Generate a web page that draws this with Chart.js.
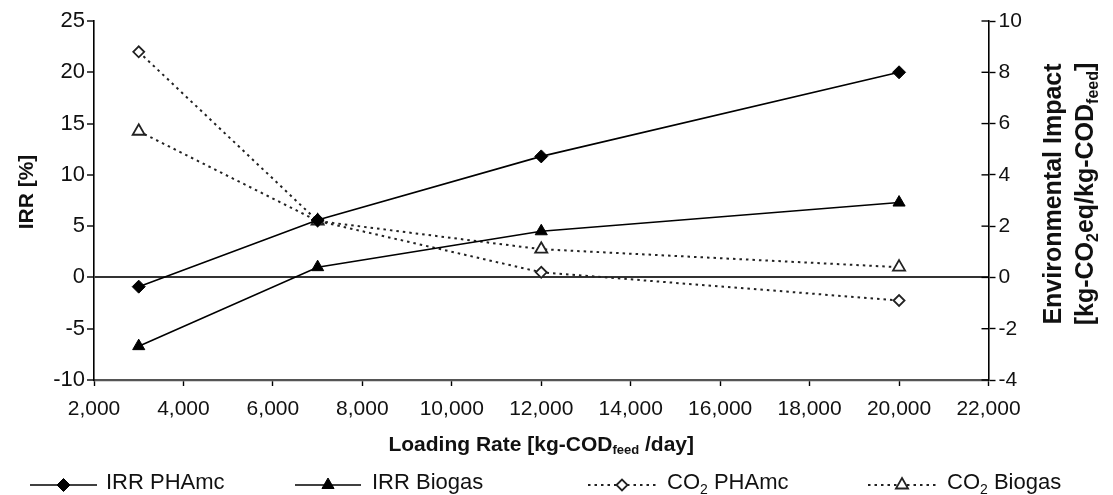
<!DOCTYPE html>
<html>
<head>
<meta charset="utf-8">
<title>IRR and environmental impact vs loading rate</title>
<script src="https://cdn.jsdelivr.net/npm/chart.js@4.4.1/dist/chart.umd.min.js"></script>
<style>
  html, body { margin: 0; padding: 0; background: #fff; }
  #wrap { width: 1113px; height: 495px; }
</style>
</head>
<body>
<div id="wrap"><canvas id="chart" width="1113" height="495"></canvas></div>
<script>
// values
const loadingRates = [3000, 7000, 12000, 20000];
const irrPHAmc = [-0.9, 5.6, 11.8, 20.0];
const irrBiogas = [-6.7, 1.0, 4.5, 7.3];
const co2PHAmc = [8.8, 2.2, 0.2, -0.9];
const co2Biogas = [5.7, 2.2, 1.1, 0.4];

const xTicks = [2000, 4000, 6000, 8000, 10000, 12000, 14000, 16000, 18000, 20000, 22000];
const irrTicks = [-10, -5, 0, 5, 10, 15, 20, 25];
const envTicks = [-4, -2, 0, 2, 4, 6, 8, 10];

const FONT_A = '"Liberation Sans", Arial, sans-serif';
const INK = '#111';

function pairs(ys) { return loadingRates.map((x, i) => ({ x, y: ys[i] })); }

// split a label into runs of [text, isSubscript]
function labelRuns(label) {
  return label.split(/(₂)/).filter(s => s).map(s => s === '₂' ? ['2', true] : [s, false]);
}

// draws text runs with subscripts; x is the centre when centred, else the left edge
function drawRich(ctx, runs, x, baseY, size, weight, subOff, centred) {
  const fontFor = r => `${weight} ${r[1] ? Math.round(size * 0.62) : size}px ${FONT_A}`;
  let total = 0;
  runs.forEach(r => { ctx.font = fontFor(r); total += ctx.measureText(r[0]).width; });
  let cx = centred ? x - total / 2 : x;
  ctx.textAlign = 'left';
  ctx.textBaseline = 'alphabetic';
  runs.forEach(r => {
    ctx.font = fontFor(r);
    ctx.fillText(r[0], cx, baseY + (r[1] ? subOff : 0));
    cx += ctx.measureText(r[0]).width;
  });
}

const legendSlots = [
  { x1: 30, x2: 97, tx: 106 },
  { x1: 295, x2: 361, tx: 372 },
  { x1: 588, x2: 656, tx: 667 },
  { x1: 868, x2: 936, tx: 947 },
];

const decorPlugin = {
  id: 'decor',
  afterDraw(chart) {
    const ctx = chart.ctx;
    const area = chart.chartArea;

    // right axis ticks also reach into the plot
    const y1 = chart.scales.y1;
    ctx.save();
    ctx.strokeStyle = '#000';
    ctx.lineWidth = 1.4;
    y1.ticks.forEach(t => {
      const py = y1.getPixelForValue(t.value);
      ctx.beginPath();
      ctx.moveTo(area.right - 7, py);
      ctx.lineTo(area.right, py);
      ctx.stroke();
    });
    ctx.restore();

    ctx.save();
    ctx.fillStyle = INK;

    // x title
    drawRich(ctx, [['Loading Rate [kg-COD', false], ['feed', true], [' /day]', false]],
      (area.left + area.right) / 2, 451, 21, 'bold', 3, true);

    // left title
    ctx.save();
    ctx.translate(33, 192);
    ctx.rotate(-Math.PI / 2);
    drawRich(ctx, [['IRR [%]', false]], 0, 0, 21, 'bold', 0, true);
    ctx.restore();

    // right title, two lines
    ctx.save();
    ctx.translate(1061, 194);
    ctx.rotate(-Math.PI / 2);
    drawRich(ctx, [['Environmental Impact', false]], 0, 0, 25, 'bold', 0, true);
    drawRich(ctx, [['[kg-CO', false], ['2', true], ['eq/kg-COD', false], ['feed', true], [']', false]],
      0, 32, 25, 'bold', 5, true);
    ctx.restore();

    // legend: line sample with marker, then label
    const ly = 485;
    chart.data.datasets.forEach((ds, i) => {
      const s = legendSlots[i];
      ctx.save();
      ctx.strokeStyle = ds.borderColor;
      ctx.lineWidth = ds.borderWidth;
      ctx.setLineDash(ds.borderDash || []);
      ctx.beginPath();
      ctx.moveTo(s.x1, ly);
      ctx.lineTo(s.x2, ly);
      ctx.stroke();
      ctx.setLineDash([]);
      ctx.fillStyle = ds.pointBackgroundColor;
      ctx.strokeStyle = ds.pointBorderColor;
      ctx.lineWidth = ds.pointBorderWidth;
      Chart.helpers.drawPoint(ctx, {
        pointStyle: ds.pointStyle, radius: ds.pointRadius,
        borderWidth: ds.pointBorderWidth, rotation: 0
      }, (s.x1 + s.x2) / 2, ly);
      ctx.restore();
      ctx.fillStyle = INK;
      drawRich(ctx, labelRuns(ds.label), s.tx, 489, 22, 'normal', 5, false);
    });
    ctx.restore();
  }
};

Chart.defaults.font.family = FONT_A;
Chart.defaults.color = INK;

new Chart(document.getElementById('chart').getContext('2d'), {
  type: 'line',
  data: {
    datasets: [
      {
        label: 'IRR PHAmc', data: pairs(irrPHAmc), yAxisID: 'y',
        borderColor: '#000', borderWidth: 1.6,
        pointStyle: 'rectRot', pointRadius: 6.5, pointBackgroundColor: '#000',
        pointBorderColor: '#000', pointBorderWidth: 1
      },
      {
        label: 'IRR Biogas', data: pairs(irrBiogas), yAxisID: 'y',
        borderColor: '#000', borderWidth: 1.6,
        pointStyle: 'triangle', pointRadius: 7, pointBackgroundColor: '#000',
        pointBorderColor: '#000', pointBorderWidth: 1
      },
      {
        label: 'CO₂ PHAmc', data: pairs(co2PHAmc), yAxisID: 'y1',
        borderColor: '#222', borderWidth: 2, borderDash: [2.5, 4],
        pointStyle: 'rectRot', pointRadius: 5.5, pointBackgroundColor: '#fff',
        pointBorderColor: '#222', pointBorderWidth: 1.8
      },
      {
        label: 'CO₂ Biogas', data: pairs(co2Biogas), yAxisID: 'y1',
        borderColor: '#222', borderWidth: 2, borderDash: [2.5, 4],
        pointStyle: 'triangle', pointRadius: 7, pointBackgroundColor: '#fff',
        pointBorderColor: '#222', pointBorderWidth: 1.8
      }
    ]
  },
  options: {
    responsive: false,
    animation: false,
    events: [],
    layout: { padding: { top: 21, left: 0, right: 0, bottom: 0 } },
    plugins: { legend: { display: false }, tooltip: { enabled: false } },
    elements: { line: { tension: 0 } },
    scales: {
      x: {
        type: 'linear', min: 2000, max: 22000,
        afterBuildTicks: s => { s.ticks = xTicks.map(v => ({ value: v })); },
        afterFit: s => { s.height = 115; },
        border: { display: true, color: '#555', width: 2.2 },
        grid: { drawOnChartArea: false, drawTicks: true, tickLength: 6, tickColor: '#000', tickWidth: 1.4 },
        ticks: {
          color: INK, font: { size: 21 }, padding: 11, maxRotation: 0,
          callback: v => v.toLocaleString('en-US')
        }
      },
      y: {
        position: 'left', min: -10, max: 25,
        afterBuildTicks: s => { s.ticks = irrTicks.map(v => ({ value: v })); },
        afterFit: s => { s.width = 94; },
        border: { display: true, color: '#000', width: 1.6 },
        grid: {
          color: c => (c.tick && c.tick.value === 0) ? '#333' : 'rgba(0,0,0,0)',
          lineWidth: 2, tickColor: '#000', tickWidth: 1.4, tickLength: 7
        },
        ticks: { color: INK, font: { size: 22 }, padding: 2 }
      },
      y1: {
        position: 'right', min: -4, max: 10,
        afterBuildTicks: s => { s.ticks = envTicks.map(v => ({ value: v })); },
        afterFit: s => { s.width = 124.5; },
        border: { display: true, color: '#000', width: 1.6 },
        grid: { drawOnChartArea: false, tickColor: '#000', tickWidth: 1.4, tickLength: 7 },
        ticks: { color: INK, font: { size: 21 }, padding: 3 }
      }
    }
  },
  plugins: [decorPlugin]
});
</script>
</body>
</html>
